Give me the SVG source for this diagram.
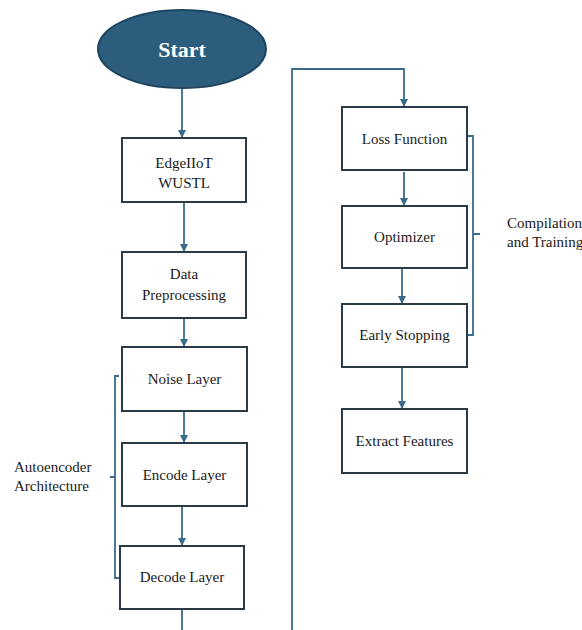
<svg xmlns="http://www.w3.org/2000/svg" width="582" height="630" viewBox="0 0 582 630">
<defs>
<marker id="ah" markerWidth="8" markerHeight="8" refX="7" refY="4" orient="auto" markerUnits="userSpaceOnUse">
<path d="M0,0 L8,4 L0,8 Z" fill="#3a6a8c"/>
</marker>
<style>
.box{fill:#ffffff;stroke:#2b3a44;stroke-width:2}
.t{font-family:"Liberation Serif","Times New Roman",serif;font-size:15px;fill:#1a1a1a;text-anchor:middle}
.lbl{font-family:"Liberation Serif","Times New Roman",serif;font-size:15px;fill:#1a1a1a}
.c{fill:none;stroke:#3a6a8c;stroke-width:1.8}
</style>
</defs>
<rect width="582" height="630" fill="#ffffff"/>
<g id="connectors">
<line class="c" x1="182" y1="88" x2="182" y2="137" marker-end="url(#ah)"/>
<line class="c" x1="184" y1="202" x2="184" y2="251" marker-end="url(#ah)"/>
<line class="c" x1="184" y1="318" x2="184" y2="346" marker-end="url(#ah)"/>
<line class="c" x1="184" y1="411" x2="184" y2="442" marker-end="url(#ah)"/>
<line class="c" x1="182" y1="506" x2="182" y2="545" marker-end="url(#ah)"/>
<polyline class="c" points="182,609 182,630"/>
<polyline class="c" points="292,630 292,69 404,69 404,106" marker-end="url(#ah)"/>
<line class="c" x1="404" y1="172" x2="404" y2="205" marker-end="url(#ah)"/>
<line class="c" x1="402" y1="268" x2="402" y2="303" marker-end="url(#ah)"/>
<line class="c" x1="402" y1="367" x2="402" y2="408" marker-end="url(#ah)"/>
<path class="c" d="M119,376 L115,376 L115,578 L119,578 M115,477 L110,477"/>
<path class="c" d="M468,136 L473,136 L473,335 L468,335 M473,234 L480,234"/>
</g>
<g id="start">
<ellipse cx="182" cy="49" rx="84" ry="39" fill="#2c5d7c" stroke="#1e4560" stroke-width="2"/>
<text x="182" y="57" text-anchor="middle" font-family="Liberation Serif,Times New Roman,serif" font-size="22" font-weight="bold" fill="#ffffff">Start</text>
</g>
<g id="edgeiiot">
<rect class="box" x="122" y="138" width="124" height="64"/>
<text class="t" x="184" y="168">EdgeIIoT</text>
<text class="t" x="184" y="188">WUSTL</text>
</g>
<g id="preprocessing">
<rect class="box" x="122" y="252" width="124" height="66"/>
<text class="t" x="184" y="279">Data</text>
<text class="t" x="184" y="300">Preprocessing</text>
</g>
<g id="noise">
<rect class="box" x="122" y="347" width="125" height="64"/>
<text class="t" x="184.5" y="384">Noise Layer</text>
</g>
<g id="encode">
<rect class="box" x="122" y="443" width="125" height="63"/>
<text class="t" x="184.5" y="480">Encode Layer</text>
</g>
<g id="decode">
<rect class="box" x="120" y="546" width="124" height="63"/>
<text class="t" x="182" y="582">Decode Layer</text>
</g>
<g id="autoencoder-label">
<text class="lbl" x="14" y="472">Autoencoder</text>
<text class="lbl" x="14" y="491">Architecture</text>
</g>
<g id="loss">
<rect class="box" x="342" y="107" width="125" height="63"/>
<text class="t" x="404.5" y="144">Loss Function</text>
</g>
<g id="optimizer">
<rect class="box" x="342" y="206" width="125" height="62"/>
<text class="t" x="404.5" y="242">Optimizer</text>
</g>
<g id="earlystopping">
<rect class="box" x="342" y="304" width="125" height="63"/>
<text class="t" x="404.5" y="340">Early Stopping</text>
</g>
<g id="extract">
<rect class="box" x="342" y="409" width="125" height="64"/>
<text class="t" x="404.5" y="446">Extract Features</text>
</g>
<g id="compilation-label">
<text class="lbl" x="507" y="228">Compilation</text>
<text class="lbl" x="507" y="247">and Training</text>
</g>
</svg>
